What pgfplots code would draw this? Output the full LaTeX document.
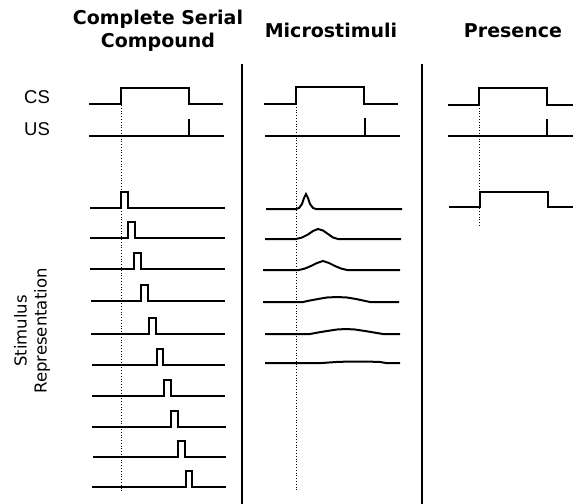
\documentclass[border=0pt]{standalone}
\usepackage{pgfplots}
\pgfplotsset{compat=1.18}
\usepackage{fontspec}
\setmainfont{DejaVu Sans}
\newfontfamily\arial{Liberation Sans}
\pgfplotsset{sig/.style={black, line width=2bp, no markers, line join=miter, line cap=butt},
  dots/.style={black, line width=0.8bp, no markers, dotted}}
\begin{document}
\begin{tikzpicture}
\begin{axis}[width=574bp,height=504bp,scale only axis,xmin=0,xmax=574,ymin=0,ymax=504,
  y dir=reverse, hide axis, clip=false]
% dividers
\addplot[black, line width=2bp, no markers] coordinates {(242,64) (242,504)};
\addplot[black, line width=2bp, no markers] coordinates {(422,64) (422,504)};
% dotted
\addplot[dots] coordinates {(121,105) (121,492)};
\addplot[dots] coordinates {(296,104) (296,490)};
\addplot[dots] coordinates {(479,105) (479,227)};
% ---- CSC panel
\addplot[sig] coordinates {(89,104) (121,104) (121,88) (189,88) (189,104) (223,104)};
\addplot[sig] coordinates {(89,136) (224,136)};
\addplot[sig] coordinates {(189,136) (189,119)};
\addplot[sig] coordinates {(90,208) (121,208) (121,192) (128,192) (128,208) (225,208)};
\addplot[sig] coordinates {(90,238) (128,238) (128,222) (135,222) (135,238) (225,238)};
\addplot[sig] coordinates {(90,269) (133.5,269) (133.5,253) (140.5,253) (140.5,269) (225,269)};
\addplot[sig] coordinates {(91,301) (141,301) (141,285) (148,285) (148,301) (225,301)};
\addplot[sig] coordinates {(91,334) (149,334) (149,318) (156,318) (156,334) (225,334)};
\addplot[sig] coordinates {(92,365) (157,365) (157,349) (163,349) (163,365) (225,365)};
\addplot[sig] coordinates {(92,396) (163.5,396) (163.5,380) (170.5,380) (170.5,396) (225,396)};
\addplot[sig] coordinates {(92,427) (170.5,427) (170.5,411) (177.5,411) (177.5,427) (226,427)};
\addplot[sig] coordinates {(93,457) (178,457) (178,441) (185,441) (185,457) (226,457)};
\addplot[sig] coordinates {(92,487) (186,487) (186,471) (192,471) (192,487) (226,487)};
% ---- Microstimuli panel
\addplot[sig] coordinates {(264,104) (296,104) (296,87) (364,87) (364,104) (398,104)};
\addplot[sig] coordinates {(265,136) (400,136)};
\addplot[sig] coordinates {(365,136) (365,118)};
\addplot[sig] coordinates {(266,209) (296,209) (299,208) (302,204) (304,198) (306,194) (308,198) (310,204) (313,208) (316,209) (402,209)};
\addplot[sig] coordinates {(265,239) (296,239) (302,237.5) (308,234.5) (313,231) (318,229) (323,230.5) (328,234) (333,237.5) (338,239) (401,239)};
\addplot[sig] coordinates {(263,270) (299,270) (305,268.5) (311,266) (317,263) (323,261) (329,263) (335,266) (341,268.5) (347,270) (400,270)};
\addplot[sig] coordinates {(263,302) (303,302) (310,300.5) (318,299) (327,297.5) (337,297) (347,297.5) (356,299) (363,300.5) (370,302) (399,302)};
\addplot[sig] coordinates {(265,334) (310,334) (318,332.5) (327,331) (337,329.5) (346,329) (355,329.5) (365,331) (374,332.5) (383,334) (400,334)};
\addplot[sig] coordinates {(265,363) (322,363) (336,362) (350,361.5) (366,361.5) (380,362) (386,363) (400,363)};
% ---- Presence panel
\addplot[sig] coordinates {(448,105) (479,105) (479,88.5) (547,88.5) (547,105) (573,105)};
\addplot[sig] coordinates {(448,136) (573,136)};
\addplot[sig] coordinates {(547,136) (547,119)};
\addplot[sig] coordinates {(449,207) (480,207) (480,191.5) (548,191.5) (548,207) (573,207)};
% ---- text
\node[anchor=base, font=\fontsize{19bp}{22bp}\selectfont\bfseries] at (axis cs:158,25) {Complete Serial};
\node[anchor=base, font=\fontsize{19bp}{22bp}\selectfont\bfseries] at (axis cs:158,48) {Compound};
\node[anchor=base, font=\fontsize{19bp}{22bp}\selectfont\bfseries] at (axis cs:331,37.5) {Microstimuli};
\node[anchor=base, font=\fontsize{19bp}{22bp}\selectfont\bfseries] at (axis cs:513,37.5) {Presence};
\node[anchor=base west, font=\arial\fontsize{18.5bp}{20bp}\selectfont, inner sep=0pt] at (axis cs:24,103) {CS};
\node[anchor=base west, font=\arial\fontsize{18.5bp}{20bp}\selectfont, inner sep=0pt] at (axis cs:24,135) {US};
\node[rotate=90, anchor=center, align=center, inner sep=0pt, font=\fontsize{16.5bp}{20bp}\selectfont] at (axis cs:32,331) {Stimulus\\Representation};
\end{axis}
\pgfresetboundingbox
\path[use as bounding box] (current axis.south west) rectangle (current axis.north east);
\end{tikzpicture}
\end{document}
